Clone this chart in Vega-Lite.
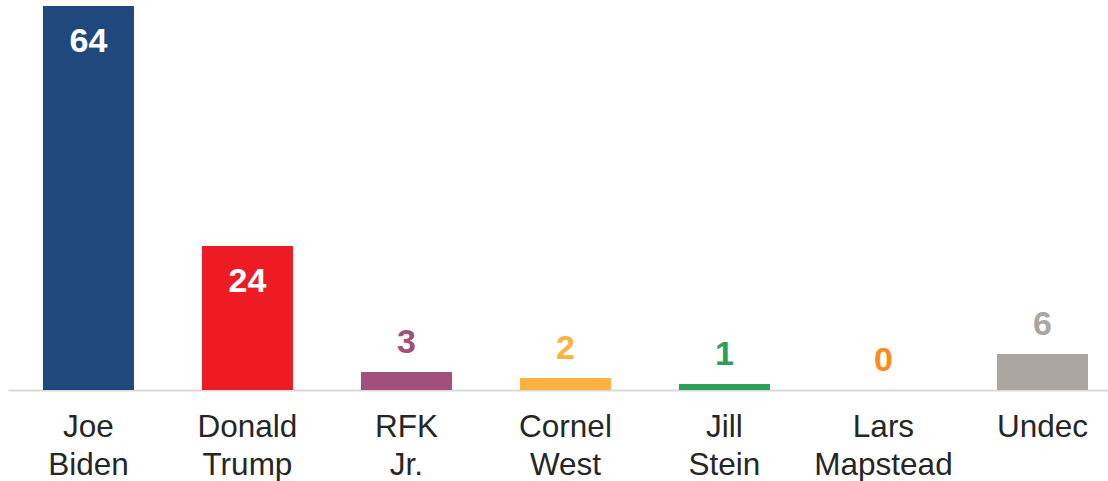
{
  "$schema": "https://vega.github.io/schema/vega-lite/v6.json",
  "autosize": {"type": "none"},
  "width": 1100,
  "height": 384,
  "padding": {"left": 8, "top": 6, "right": 0, "bottom": 91},
  "background": "white",
  "config": {"view": {"stroke": null}, "font": "Liberation Sans"},
  "data": {
    "values": [
      {"candidate": "Joe Biden", "pct": 64},
      {"candidate": "Donald Trump", "pct": 24},
      {"candidate": "RFK Jr.", "pct": 3},
      {"candidate": "Cornel West", "pct": 2},
      {"candidate": "Jill Stein", "pct": 1},
      {"candidate": "Lars Mapstead", "pct": 0},
      {"candidate": "Undec", "pct": 6}
    ]
  },
  "encoding": {
    "x": {
      "field": "candidate",
      "type": "nominal",
      "sort": null,
      "scale": {"paddingInner": 0.4277, "paddingOuter": 0.1729, "align": 0.636},
      "axis": {
        "title": null,
        "labelAngle": 0,
        "labelExpr": "split(datum.label, ' ')",
        "labelFont": "Liberation Sans",
        "labelFontSize": 31.5,
        "labelLineHeight": 38,
        "labelColor": "#262626",
        "labelPadding": 21,
        "ticks": false,
        "domainColor": "#d9d9d9",
        "domainWidth": 2
      }
    },
    "y": {
      "field": "pct",
      "type": "quantitative",
      "scale": {"domain": [0, 64], "nice": false},
      "axis": null
    },
    "color": {
      "field": "candidate",
      "type": "nominal",
      "legend": null,
      "scale": {
        "domain": ["Joe Biden", "Donald Trump", "RFK Jr.", "Cornel West", "Jill Stein", "Lars Mapstead", "Undec"],
        "range": ["#1F497D", "#ED1C24", "#A0507A", "#FFB142", "#2E9E5B", "#FF8A1C", "#ABA6A2"]
      }
    }
  },
  "layer": [
    {"mark": {"type": "bar"}},
    {
      "transform": [{"filter": "datum.pct >= 20"}],
      "mark": {"type": "text", "baseline": "alphabetic", "dy": 46, "fontSize": 34, "fontWeight": "bold", "font": "Liberation Sans", "color": "white"},
      "encoding": {"text": {"field": "pct", "type": "quantitative"}, "color": {"value": "white"}}
    },
    {
      "transform": [{"filter": "datum.pct < 20"}],
      "mark": {"type": "text", "baseline": "alphabetic", "dy": -19, "fontSize": 34, "fontWeight": "bold", "font": "Liberation Sans"},
      "encoding": {"text": {"field": "pct", "type": "quantitative"}}
    }
  ]
}
